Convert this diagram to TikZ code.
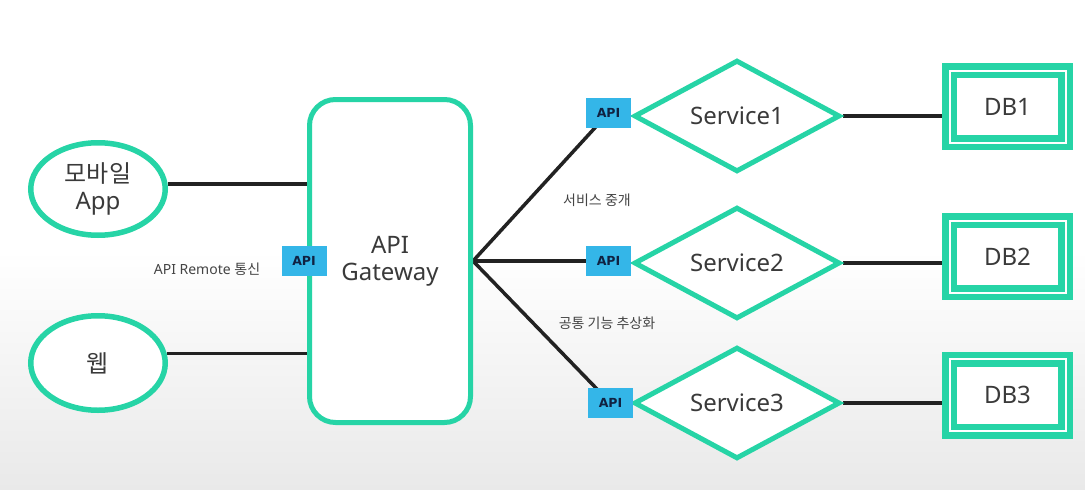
\documentclass[tikz,border=0pt]{standalone}
\usepackage{fontspec}
\setmainfont{Noto Sans}
\newfontfamily\kr{Noto Sans CJK KR}
\newfontfamily\apif{DejaVu Sans}
\usetikzlibrary{shapes.geometric}
\definecolor{tealc}{RGB}{38,212,166}
\definecolor{apiblue}{RGB}{52,182,232}
\definecolor{apitext}{RGB}{16,34,66}
\definecolor{txt}{RGB}{58,58,58}
\definecolor{lbl}{RGB}{68,68,68}
\definecolor{conn}{RGB}{34,34,34}
\definecolor{bggray}{RGB}{233,233,233}
\pgfdeclarelayer{bg}
\pgfsetlayers{bg,main}
\newcommand\bigfnt{\fontsize{24}{27}\selectfont}
\newcommand\smallfnt{\fontsize{14}{17}\selectfont}
\newcommand\apifnt{\apif\bfseries\fontsize{12.5}{14}\selectfont}
\begin{document}
\begin{tikzpicture}[x=1pt,y=-1pt,
  client/.style={ellipse, draw=tealc, line width=5.5pt, fill=white, inner sep=0pt,
     minimum width=134.5pt, text=txt, font=\bigfnt, align=center},
  gateway/.style={rectangle, rounded corners=26pt, draw=tealc, line width=5pt, fill=white,
     minimum width=161pt, minimum height=323pt, inner sep=0pt, text=txt, font=\bigfnt, align=center},
  apibox/.style={rectangle, fill=apiblue, minimum width=45pt, minimum height=30pt,
     inner sep=0pt, font=\apifnt, text=apitext},
  service/.style={diamond, draw=tealc, line width=5pt, fill=white, miter limit=10,
     minimum width=206pt, minimum height=97pt, inner sep=0pt, text=txt, font=\bigfnt},
  db/.style={rectangle, draw=tealc, line width=6.5pt, double=white, double distance=2pt,
     fill=white, minimum width=116pt, minimum height=72pt, inner sep=0pt, text=txt, font=\bigfnt},
  connector/.style={draw=conn, line width=3.5pt},
  lbltext/.style={font=\smallfnt, text=lbl, inner sep=0pt}
]
\useasboundingbox (0,0) rectangle (1085,490);
\begin{pgfonlayer}{bg}
  \fill[white] (0,0) rectangle (1085,490);
  \shade[top color=white, bottom color=bggray] (0,250) rectangle (1085,490);
\end{pgfonlayer}

% clients
\node[client, minimum height=92.5pt] (mob) at (98,189) {{\kr 모바일}\\App};
\node[client, minimum height=94.5pt] (web) at (98,363) {\kr 웹};

% gateway
\node[gateway] (gw) at (390,261) {API\\Gateway};
\node[apibox] (apig) at (304,260.5) {API};

% services
\node[service] (s1) at (737,116) {Service1};
\node[service] (s2) at (737,263) {Service2};
\node[service] (s3) at (737,403) {Service3};

\node[apibox] (api1) at (608.5,113) {API};
\node[apibox] (api2) at (608.5,261) {API};
\node[apibox] (api3) at (610.5,403) {API};

% databases
\node[db] (db1) at (1007.5,106.5) {DB1};
\node[db] (db2) at (1007.5,256.5) {DB2};
\node[db] (db3) at (1007.5,395) {DB3};

% labels
\node[lbltext] (lremote) at (207,269) {API Remote {\kr 통신}};
\node[lbltext] (lmed) at (597,200) {\kr 서비스 중개};
\node[lbltext] (labs) at (607,323) {\kr 공통 기능 추상화};

% connectors
\begin{pgfonlayer}{bg}
  \draw[connector] (mob.4) -- (mob.4 -| gw.west);
  \draw[connector] (web.8) -- (web.8 -| gw.west);
  \draw[connector] (gw.east) -- (api1.center);
  \draw[connector] (gw.east) -- (api2.center);
  \draw[connector] (gw.east) -- (api3.center);
  \draw[connector] (s1.east) -- (s1.east -| db1.west);
  \draw[connector] (s2.east) -- (s2.east -| db2.west);
  \draw[connector] (s3.east) -- (s3.east -| db3.west);
\end{pgfonlayer}
\end{tikzpicture}
\end{document}
